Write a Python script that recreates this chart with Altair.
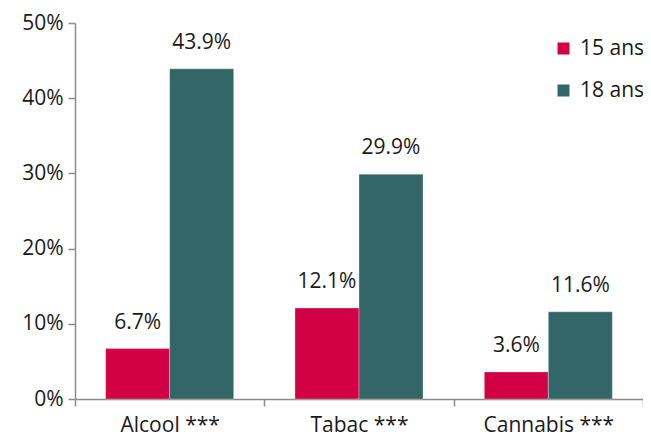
import altair as alt
import pandas as pd

categories = ["Alcool ***", "Tabac ***", "Cannabis ***"]
groups = ["15 ans", "18 ans"]
values_15 = [0.067, 0.121, 0.036]
values_18 = [0.439, 0.299, 0.116]
colors = ["#D20044", "#336666"]

rows = []
for c, a, b in zip(categories, values_15, values_18):
    rows.append({"cat": c, "grp": groups[0], "val": a})
    rows.append({"cat": c, "grp": groups[1], "val": b})
df = pd.DataFrame(rows)

FONT = "Open Sans"
TXT = "#1a1a1a"
AX = "#8c8c8c"

x = alt.X("cat:N", sort=categories, title=None,
          scale=alt.Scale(paddingInner=0, paddingOuter=0),
          axis=alt.Axis(labelAngle=0, tickBand="extent", labelFontSize=21,
                        labelColor=TXT, labelFont=FONT, labelPadding=8,
                        domainColor=AX, tickColor=AX, tickSize=7,
                        domainWidth=1.5, tickWidth=1.5))
y = alt.Y("val:Q", title=None,
          scale=alt.Scale(domain=[0, 0.5]),
          axis=alt.Axis(format=".0%", values=[0, 0.1, 0.2, 0.3, 0.4, 0.5],
                        labelFontSize=21, labelColor=TXT, labelFont=FONT,
                        grid=False, domainColor=AX, tickColor=AX,
                        tickSize=7, labelPadding=5, domainWidth=1.5, tickWidth=1.5))

base = alt.Chart(df).encode(
    x=x,
    xOffset=alt.XOffset("grp:N", sort=groups,
                        scale=alt.Scale(paddingInner=0, paddingOuter=0.479)),
    y=y,
)

bars = base.mark_bar(stroke="#ffffff", strokeWidth=0.6, strokeOpacity=0.5).encode(
    color=alt.Color("grp:N", sort=groups, title=None,
                    scale=alt.Scale(domain=groups, range=colors),
                    legend=alt.Legend(orient="none", legendX=478, legendY=15,
                                      symbolType="square", symbolSize=144,
                                      symbolStrokeWidth=0, labelFontSize=21,
                                      labelFont=FONT, labelColor=TXT,
                                      rowPadding=20, labelOffset=6))
)

labels = base.mark_text(baseline="alphabetic", dy=-20, fontSize=21, font=FONT,
                        color=TXT).encode(
    text=alt.Text("val:Q", format=".1%")
)

chart = alt.layer(bars, labels).properties(
    width=568, height=376,
    autosize=alt.AutoSizeParams(type="none"),
    padding={"left": 67, "top": 15, "right": 0, "bottom": 38},
).configure_view(stroke=None)

chart.save("out.html", embed_options={"renderer": "svg", "actions": False})
